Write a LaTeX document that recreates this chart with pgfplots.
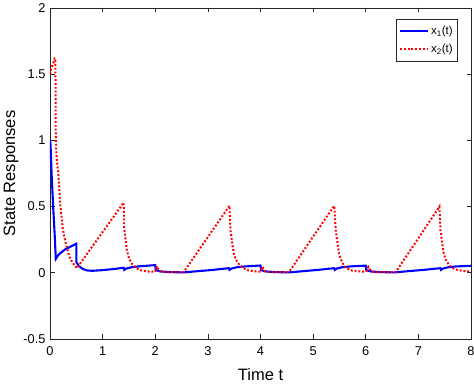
\documentclass[border=0pt]{standalone}
\usepackage{fontspec}
\setmainfont{Liberation Sans}
\usepackage{pgfplots}
\pgfplotsset{compat=1.18}
\definecolor{mblue}{rgb}{0,0,1}
\definecolor{mred}{rgb}{1,0,0}
\definecolor{axgray}{rgb}{0.15,0.15,0.15}
\begin{document}
\begin{tikzpicture}
\begin{axis}[
  scale only axis, width=421pt, height=331pt,
  xmin=0, xmax=8, ymin=-0.5, ymax=2,
  xtick={0,1,...,8}, ytick={-0.5,0,0.5,1,1.5,2},
  yticklabels={-0.5,0,0.5,1,1.5,2},
  tick align=inside, major tick length=4.5pt,
  axis line style={axgray, line width=0.7pt},
  every tick/.style={axgray, line width=0.7pt},
  tick label style={font=\fontsize{12.8}{14}\selectfont},
  xticklabel style={yshift=-4pt},
  yticklabel style={xshift=-1pt},
  /pgf/number format/assume math mode=true,
  xlabel={Time t}, ylabel={State Responses},
  label style={font=\fontsize{16.5}{18}\selectfont},
  xlabel style={yshift=-6pt},
  ylabel style={yshift=-2pt},
  legend style={at={(rel axis cs:1,1)}, anchor=north east, xshift=-13pt, yshift=-11pt,
    font=\fontsize{11.5}{13}\selectfont, draw=axgray, line width=0.7pt,
    row sep=4pt, inner xsep=3pt, inner ysep=5pt},
  legend cell align=left,
  legend image code/.code={\draw[#1] (0pt,0pt) -- (28pt,0pt);},
]
\coordinate (bl) at (rel axis cs:0,0);
\coordinate (tr) at (rel axis cs:1,1);
\addplot[mblue, line width=2.1pt] coordinates {
(0,1.0) (0.01,0.97) (0.03,0.75) (0.06,0.50) (0.09,0.28) (0.11,0.105)
(0.15,0.13) (0.2,0.15) (0.3,0.18) (0.4,0.20) (0.5,0.22)
(0.501,0.08) (0.55,0.05) (0.62,0.03) (0.7,0.018) (0.8,0.015)
(1.0,0.02) (1.2,0.028) (1.4,0.038) (1.41,0.022) (1.45,0.032) (1.55,0.042) (1.7,0.049) (2.0,0.058)
(2.01,0.02) (2.1,0.01) (2.3,0.005) (2.55,0.003) (2.8,0.012) (3.1,0.022) (3.4,0.035)
(3.41,0.022) (3.45,0.032) (3.55,0.042) (3.7,0.048) (4.0,0.055)
(4.01,0.02) (4.1,0.01) (4.3,0.005) (4.55,0.003) (4.8,0.012) (5.1,0.022) (5.4,0.035)
(5.41,0.022) (5.45,0.032) (5.55,0.042) (5.7,0.048) (6.0,0.054)
(6.01,0.02) (6.1,0.01) (6.3,0.005) (6.55,0.003) (6.8,0.012) (7.1,0.022) (7.42,0.035)
(7.43,0.022) (7.47,0.032) (7.57,0.042) (7.72,0.048) (8.0,0.053)
};
\addlegendentry{x\textsubscript{1}(t)}
\addplot[mred, line width=2pt, dash pattern=on 1.9pt off 1.9pt] coordinates {
(0,1.5) (0.03,1.55) (0.06,1.58) (0.09,1.62) (0.1,1.62) (0.105,1.45) (0.11,1.0)
(0.13,0.85) (0.16,0.745) (0.19,0.54) (0.24,0.34) (0.29,0.24) (0.34,0.16) (0.38,0.11)
(0.44,0.07) (0.51,0.035)
(1.4,0.53) (1.41,0.34) (1.46,0.17) (1.5,0.11) (1.56,0.066) (1.63,0.04) (1.71,0.02) (1.85,0.01) (2.0,0.008)
(2.03,0.05) (2.08,0.015) (2.15,0.005) (2.54,0.005)
(3.41,0.506) (3.43,0.32) (3.49,0.15) (3.53,0.10) (3.59,0.065) (3.66,0.04) (3.75,0.02) (3.9,0.01) (4.0,0.008)
(4.04,0.045) (4.09,0.012) (4.15,0.005) (4.54,0.005)
(5.40,0.506) (5.43,0.32) (5.49,0.15) (5.53,0.10) (5.59,0.05) (5.66,0.03) (5.75,0.015) (5.9,0.01) (6.0,0.008)
(6.05,0.045) (6.1,0.012) (6.16,0.005) (6.57,0.005)
(7.40,0.50) (7.42,0.32) (7.48,0.15) (7.52,0.10) (7.58,0.06) (7.65,0.035) (7.75,0.02) (7.9,0.012) (8.0,0.01)
};
\addlegendentry{x\textsubscript{2}(t)}
\end{axis}
\pgfresetboundingbox
\path ([shift={(-50pt,-45pt)}]bl) rectangle ([shift={(3pt,8pt)}]tr);
\end{tikzpicture}
\end{document}
